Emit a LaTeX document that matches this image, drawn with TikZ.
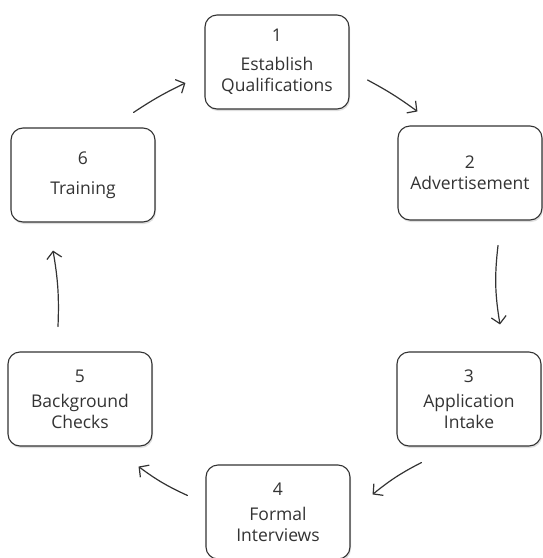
\documentclass[tikz,border=0pt]{standalone}
\usepackage{fontspec}
\setmainfont{Open Sans}
\usepackage{xcolor}
\usetikzlibrary{arrows,arrows.meta,shadows,calc}
\definecolor{inkgray}{HTML}{333333}

\tikzset{
  stepbox/.style = {draw = inkgray, line width = 1.1pt, rounded corners = 12pt, fill = white,
    minimum width = 144pt, minimum height = 94pt, align = center, text = inkgray,
    font = \fontsize{17.5}{21}\selectfont,
    drop shadow = {opacity = .25, shadow xshift = 1pt, shadow yshift = -2pt}},
  flow/.style = {->, draw = inkgray, line width = 1.2pt, line cap = round}
}

\begin{document}
\begin{tikzpicture}[x = 1pt, y = -1pt, >={Straight Barb[length=7pt,width=15pt]}]
\useasboundingbox (0,0) rectangle (542,558);

\node[stepbox] (qual) at (277,62) {1\\[8pt]Establish\\Qualifications};
\node[stepbox] (advert) at (470,173) {2\\Advertisement};
\node[stepbox] (intake) at (469,399) {3\\[4pt]Application\\Intake};
\node[stepbox] (interview) at (278,512) {4\\[4pt]Formal\\Interviews};
\node[stepbox] (checks) at (80,399) {5\\[4pt]Background\\Checks};
\node[stepbox] (train) at (83,175) {6\\[9pt]Training};

\draw[flow] ([shift={(18,18)}]qual.east) to[bend left=4] ([shift={(20,-14)}]advert.north west);
\draw[flow] ([shift={(28,25)}]advert.south) to[bend right=8] ([shift={(31,-27)}]intake.north);
\draw[flow] ([shift={(25,16)}]intake.south west) to[bend right=6] ([shift={(22,30)}]interview.north east);
\draw[flow] ([shift={(-18,31)}]interview.north west) to[bend left=6] ([shift={(-14,20)}]checks.south east);
\draw[flow] ([shift={(-22,-25)}]checks.north) to[bend right=6] ([shift={(-30,28)}]train.south);
\draw[flow] ([shift={(-22,-15)}]train.north east) to[bend left=4] ([shift={(-19,21)}]qual.west);
\end{tikzpicture}
\end{document}
